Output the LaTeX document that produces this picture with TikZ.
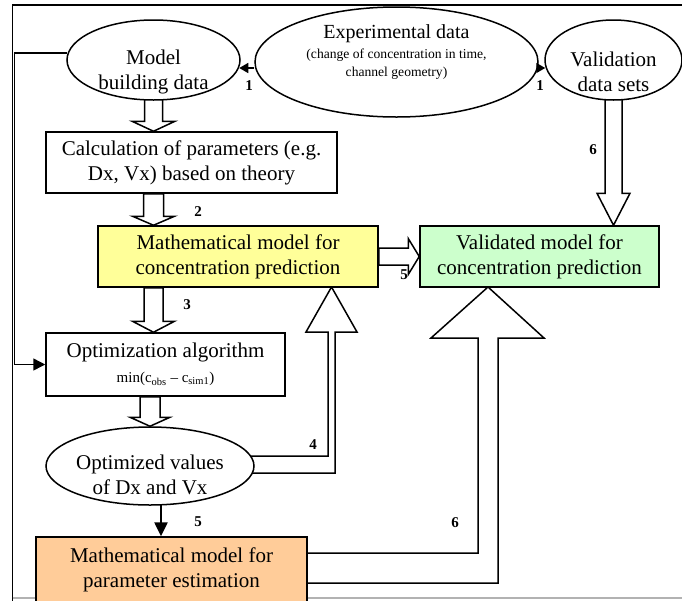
\documentclass[tikz,border=0pt]{standalone}
\usepackage{fontspec}
\setmainfont{Liberation Serif}
\usetikzlibrary{arrows.meta,calc,shapes.geometric,backgrounds}
\tikzset{>={Triangle[length=12pt,width=12pt]}}
\colorlet{modelYellow}{yellow!40}
\definecolor{modelYellow}{RGB}{255,255,153}
\definecolor{validGreen}{RGB}{204,255,204}
\definecolor{estimOrange}{RGB}{255,204,153}
\newcommand{\boxfont}{\fontsize{21}{25}\selectfont}
\newcommand{\titlefont}{\fontsize{20}{18}\selectfont}
\newcommand{\smallfont}{\fontsize{13.6}{18}\selectfont}
\newcommand{\minfont}{\fontsize{15}{18}\selectfont}
\newcommand{\numfont}{\fontsize{15}{15}\bfseries\selectfont}
% hollow block arrow: from, to, shaft half width, head half width, head length
\newcommand{\blockarrow}[5]{%
  \coordinate (ba) at (#1);
  \coordinate (bb) at (#2);
  \coordinate (bh) at ($(bb)!#5!(ba)$);
  \draw[hollow] ($(ba)!#3!90:(bb)$) -- ($(bh)!#3!90:(bb)$) -- ($(bh)!#4!90:(bb)$)
    -- (bb) -- ($(bh)!#4!-90:(bb)$) -- ($(bh)!#3!-90:(bb)$) -- ($(ba)!#3!-90:(bb)$) -- cycle;
}
\tikzset{
  procbox/.style={draw, line width=1.5pt, align=center, minimum height=61pt, inner sep=2pt, font=\boxfont},
  dataell/.style={draw, ellipse, line width=1.5pt, fill=white, inner sep=0pt},
  txtlab/.style={align=center, font=\boxfont},
  hollow/.style={draw, line width=1.5pt, fill=white, line join=miter},
  numlab/.style={font=\numfont},
}

\begin{document}
\begin{tikzpicture}[x=1pt,y=-1pt]
\useasboundingbox (0,0) rectangle (682,600);

\node[dataell, minimum width=173pt, minimum height=80pt,
  label={[txtlab,name=modeltxt,yshift=-12pt]center:Model\\building data}] (model) at (153.5,60) {};
\node[dataell, minimum width=283pt, minimum height=110pt,
  label={[txtlab,name=exptxt,yshift=10pt,font=\titlefont]center:Experimental data\\[2pt]\smallfont (change of concentration in time,\\\smallfont channel geometry)}] (exp) at (396.5,62) {};
\node[dataell, minimum width=137pt, minimum height=80pt,
  label={[txtlab,name=validtxt,yshift=-12pt]center:Validation\\data sets}] (valid) at (613.5,60) {};

\node[procbox, minimum width=291pt] (calc) at (191.5,162.5) {Calculation of parameters (e.g.\\Dx, Vx) based on theory};
\node[procbox, minimum width=280pt, fill=modelYellow] (yellow) at (238,256.5) {Mathematical model for\\concentration prediction};
\node[procbox, minimum width=239pt, fill=validGreen] (green) at (539.5,256.5) {Validated model for\\concentration prediction};
\node[procbox, minimum width=239pt, minimum height=63pt] (opt) at (165.5,364.5) {Optimization algorithm\\\minfont min(c\textsubscript{obs} -- c\textsubscript{sim1})};
\node[dataell, minimum width=208pt, minimum height=78pt,
  label={[txtlab,name=optvtxt,yshift=-9pt]center:Optimized values\\of Dx and Vx}] (optv) at (150,466) {};
\node[procbox, minimum width=271pt, minimum height=65pt, fill=estimOrange] (estim) at (171.5,569.5) {Mathematical model for\\parameter estimation};

\begin{scope}[on background layer]
  % frame
  \draw[line width=1.6pt] (12.5,602) -- (12.5,5) -- (690,5);
  \draw[gray!60, line width=1.5pt] (12.5,598) -- (682,598);
  \blockarrow{model}{model |- calc.north}{9pt}{21.5pt}{10pt}
  \blockarrow{calc.south -| model}{yellow.north -| model}{10pt}{21pt}{9pt}
  \blockarrow{yellow.south -| model}{opt.north -| model}{9.5pt}{21pt}{11pt}
  \blockarrow{opt.south -| optv}{optv.north}{10pt}{20pt}{9pt}
  \blockarrow{valid}{valid |- green.north}{8.5pt}{16.5pt}{32pt}
  \blockarrow{yellow.east}{green.west}{8.5pt}{18pt}{11pt}
  \draw[hollow] (230,456) -- (328,456) -- (328,332) -- (306,332) -- (331.5,287)
    -- (357,332) -- (335,332) -- (335,473) -- (230,473);
  \draw[hollow] (280,553) -- (478,553) -- (478,338) -- (431,338) -- (488,287)
    -- (544,338) -- (498,338) -- (498,583) -- (280,583);
\end{scope}

\draw[line width=1.5pt, -{Triangle[length=9pt,width=10pt]}] ($(exp.west)+(0,6)$) -- ($(model.east)+(-1.5,8)$);
\draw[line width=1.5pt, -{Triangle[length=9pt,width=10pt]}] ($(exp.east)+(-1,6)$) -- ($(valid.west)+(1,8)$);
\draw[line width=1.5pt, ->] ($(model.west)+(1,-7)$) -| ($(opt.west)+(-31,0)$) -- (opt.west);
\draw[line width=2.5pt, -{Triangle[length=14pt,width=13pt]}] ($(optv.south)+(11,-1)$) -- ($(estim.north)+(-10.5,0)$);

\node[numlab] (n1a) at (249,86) {1};
\node[numlab] (n1b) at (540,86) {1};
\node[numlab] (n6a) at (593,150) {6};
\node[numlab] (n2) at (198,212) {2};
\node[numlab] (n5a) at (404,275) {5};
\node[numlab] (n3) at (187,305) {3};
\node[numlab] (n4) at (313,445) {4};
\node[numlab] (n5b) at (198,522) {5};
\node[numlab] (n6b) at (455,523) {6};
\end{tikzpicture}
\end{document}
